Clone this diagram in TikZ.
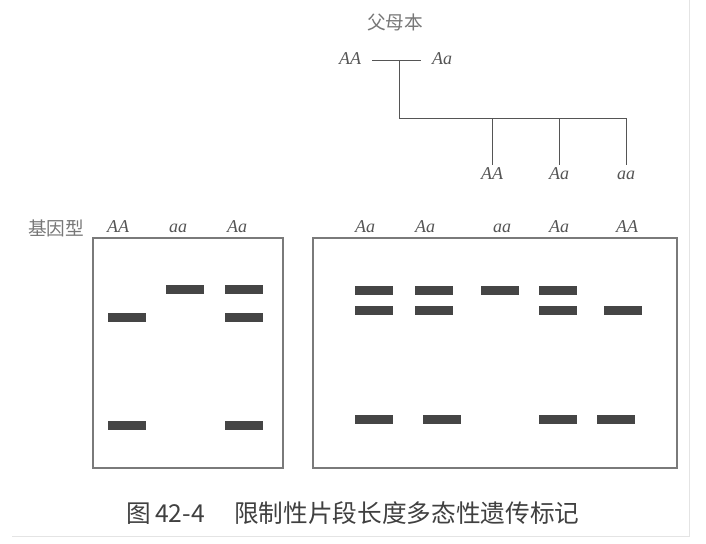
\documentclass[tikz,border=0pt]{standalone}
\usepackage{fontspec}
\setmainfont{Liberation Serif}
\newfontfamily\cjk{Noto Sans CJK SC}
\usetikzlibrary{positioning,calc}

\definecolor{bandgray}{HTML}{454545}
\definecolor{boxgray}{HTML}{7A7A7A}
\definecolor{labgray}{HTML}{555555}
\definecolor{pagegray}{HTML}{E4E4E4}

\tikzset{
  band/.style={fill=bandgray, minimum width=28.5pt, minimum height=6.75pt, inner sep=0pt},
  gel/.style={draw=boxgray, line width=0.9pt},
  ped/.style={draw=labgray, line width=0.75pt},
  geno/.style={font=\itshape\fontsize{13.5}{13.5}\selectfont, text=labgray,
    text height=1.6ex, text depth=0.2ex},
  cjklab/.style={font=\cjk\fontsize{14}{14}\selectfont, text=labgray!80}
}

\begin{document}
\begin{tikzpicture}[x=0.75pt, y=-0.75pt]
\useasboundingbox (0,0) rectangle (706,543);

% pedigree
\node[cjklab] (parents) at (395,22) {父母本};
\node[geno] (pAA) at (350,60) {AA};
\node[geno] (pAa) at (442,60) {Aa};
\draw[ped, shorten <=5pt, shorten >=5pt] (pAA) -- (pAa);
\coordinate (mate) at (399,60);
\coordinate (bar) at (626,118);
\node[geno] (cAA) at (492,175) {AA};
\node[geno] (cAa) at (559,175) {Aa};
\node[geno] (caa) at (626,175) {aa};
\draw[ped] (mate) |- (bar) -- (caa);
\draw[ped] (cAA |- bar) -- (cAA);
\draw[ped] (cAa |- bar) -- (cAa);

% gel labels
\node[cjklab] (geno) at (56,228) {基因型};
\foreach \x/\g [count=\i] in {118/AA, 178/aa, 237/Aa}
  \node[geno] (lg\i) at (\x,228) {\g};
\foreach \x/\g [count=\i] in {365/Aa, 425/Aa, 502/aa, 559/Aa, 627/AA}
  \node[geno] (rg\i) at (\x,228) {\g};

% gels
\draw[gel] (93,238) rectangle (283,468);
\draw[gel] (313,238) rectangle (677,468);

% bands
\foreach \x/\y [count=\i] in {126.5/317, 126.5/425, 185/289, 243.5/289, 243.5/317, 243.5/425}
  \node[band] (lb\i) at (\x,\y) {};
\foreach \x/\y [count=\i] in {374/290, 434/290, 500/290, 558/290,
                              374/310, 434/310, 558/310, 623/310,
                              374/419, 441.5/419, 558/419, 616/419}
  \node[band] (rb\i) at (\x,\y) {};

% caption
\node[font=\cjk\fontsize{18.5}{18.5}\selectfont, text=black!75] (caption) at (353,513)
  {图\,42-4\hspace{1.2em}限制性片段长度多态性遗传标记};

% page edge
\draw[pagegray] (12,536) -- (689,536) -- (689,0);
\end{tikzpicture}
\end{document}
